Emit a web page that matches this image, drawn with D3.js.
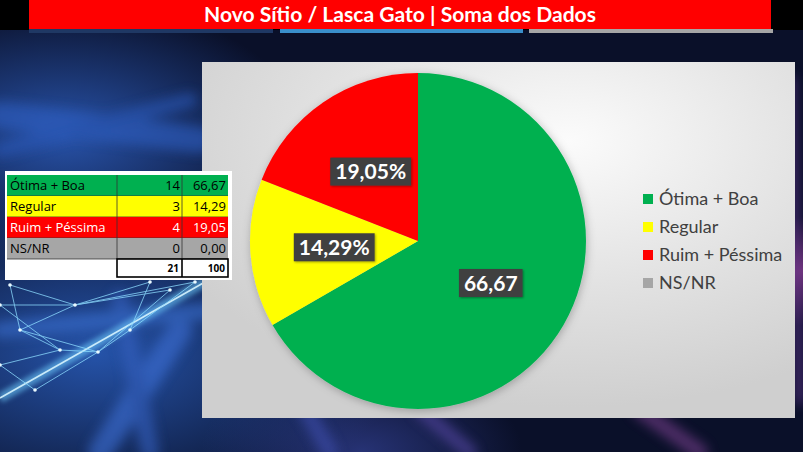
<!DOCTYPE html>
<html>
<head>
<meta charset="utf-8">
<script src="https://cdn.jsdelivr.net/npm/d3@7"></script>
<style>
  html, body { margin: 0; padding: 0; background: #000; }
  svg { display: block; }
</style>
</head>
<body>
<div id="chart"></div>
<script>
// data
const title = "Novo Sítio / Lasca Gato | Soma dos Dados";
const categories = ["Ótima + Boa", "Regular", "Ruim + Péssima", "NS/NR"];
const counts = [14, 3, 4, 0];
const percents = [66.67, 14.29, 19.05, 0.00];
const labelSuffix = ["", "%", "%", "%"];
const totalCount = 21;
const totalPct = 100;
const colors = ["#00b050", "#ffff00", "#ff0000", "#a6a6a6"];
const tableText = ["#000", "#000", "#fff", "#000"];

const W = 803, H = 452;
const fmt = v => d3.format(".2f")(v).replace(".", ",");

const svg = d3.select("#chart").append("svg")
  .attr("width", W).attr("height", H)
  .attr("viewBox", [0, 0, W, H]);

const defs = svg.append("defs");

// background gradients
function radial(id, cx, cy, r, color, op) {
  const g = defs.append("radialGradient").attr("id", id)
    .attr("cx", cx).attr("cy", cy).attr("r", r);
  g.append("stop").attr("offset", 0).attr("stop-color", color).attr("stop-opacity", op);
  g.append("stop").attr("offset", 1).attr("stop-color", color).attr("stop-opacity", 0);
}
radial("glow", 0.08, 0.3, 0.3, "#2f63c9", 0.8);
radial("glow2", 0.12, 0.78, 0.38, "#2a5fc0", 0.85);
radial("glow3", 1, 0.6, 0.12, "#8a3a8a", 0.8);
radial("glow4", 0.45, 1, 0.2, "#3a4aa8", 0.6);

const panelGrad = defs.append("radialGradient").attr("id", "panel")
  .attr("cx", 0.62).attr("cy", 0.22).attr("r", 0.75);
panelGrad.append("stop").attr("offset", 0).attr("stop-color", "#fbfbfb");
panelGrad.append("stop").attr("offset", 0.55).attr("stop-color", "#e2e2e2");
panelGrad.append("stop").attr("offset", 1).attr("stop-color", "#cfcfcf");

const blur = defs.append("filter").attr("id", "blur")
  .attr("x", -0.2).attr("y", -0.2).attr("width", 1.4).attr("height", 1.4);
blur.append("feGaussianBlur").attr("stdDeviation", 6);

const soft = defs.append("filter").attr("id", "soft")
  .attr("x", -0.2).attr("y", -0.2).attr("width", 1.4).attr("height", 1.4);
soft.append("feGaussianBlur").attr("stdDeviation", 2.5);

const shadow = defs.append("filter").attr("id", "shadow")
  .attr("x", -0.1).attr("y", -0.1).attr("width", 1.2).attr("height", 1.2);
shadow.append("feDropShadow").attr("dx", 1).attr("dy", 2)
  .attr("stdDeviation", 4).attr("flood-color", "#000").attr("flood-opacity", 0.25);

const boxShadow = defs.append("filter").attr("id", "boxShadow")
  .attr("x", -0.2).attr("y", -0.2).attr("width", 1.4).attr("height", 1.4);
boxShadow.append("feDropShadow").attr("dx", 1).attr("dy", 1)
  .attr("stdDeviation", 1.2).attr("flood-color", "#000").attr("flood-opacity", 0.35);

// background
svg.append("rect").attr("width", W).attr("height", H).attr("fill", "#0a1029");
["glow", "glow2", "glow3", "glow4"].forEach(id =>
  svg.append("rect").attr("width", W).attr("height", H).attr("fill", `url(#${id})`));

// blurry beams
const beams = svg.append("g").attr("filter", "url(#blur)").attr("opacity", 0.6);
[[100, 452, 180, 330, 24, "#3c6fd6"], [150, 452, 120, 300, 18, "#3460c0"],
 [0, 330, 220, 310, 16, "#3b6fd0"], [330, 452, 300, 400, 16, "#4050b0"],
 [470, 452, 420, 410, 14, "#5a4aa8"], [700, 452, 640, 410, 16, "#7a3f8f"],
 [0, 115, 200, 140, 26, "#2e5fc2"], [0, 150, 190, 100, 14, "#2a58b8"],
 [790, 80, 800, 400, 10, "#6a3a9a"]]
  .forEach(([x1, y1, x2, y2, w, c]) => beams.append("line")
    .attr("x1", x1).attr("y1", y1).attr("x2", x2).attr("y2", y2)
    .attr("stroke", c).attr("stroke-width", w).attr("stroke-linecap", "round"));

// glowing diagonal band
svg.append("line").attr("x1", 0).attr("y1", 398).attr("x2", 205).attr("y2", 282)
  .attr("stroke", "#6fcfff").attr("stroke-width", 10).attr("opacity", 0.55).attr("filter", "url(#soft)");
svg.append("line").attr("x1", 0).attr("y1", 398).attr("x2", 205).attr("y2", 282)
  .attr("stroke", "#d8f5ff").attr("stroke-width", 1.6).attr("opacity", 0.9);

// network mesh
const mesh = svg.append("g").attr("stroke", "#8ddcff").attr("stroke-width", 0.9).attr("opacity", 0.85);
const nodes = [[0, 305], [20, 330], [75, 305], [98, 352], [195, 282], [170, 290],
  [0, 365], [60, 350], [130, 330], [35, 390], [150, 282], [10, 285]];
[[0, 2], [2, 4], [1, 2], [1, 3], [3, 5], [2, 5], [1, 7], [7, 3], [6, 7], [3, 8], [8, 4],
 [6, 9], [9, 3], [2, 10], [11, 2], [11, 1], [10, 8], [0, 7]]
  .forEach(([a, b]) => mesh.append("line")
    .attr("x1", nodes[a][0]).attr("y1", nodes[a][1])
    .attr("x2", nodes[b][0]).attr("y2", nodes[b][1]));
svg.append("g").selectAll("circle").data(nodes).join("circle")
  .attr("cx", d => d[0]).attr("cy", d => d[1]).attr("r", 1.8).attr("fill", "#eafaff");

// header
svg.append("rect").attr("x", 0).attr("y", 0).attr("width", W).attr("height", 30).attr("fill", "#000");
svg.append("rect").attr("x", 29).attr("y", 0).attr("width", 742).attr("height", 29).attr("fill", "#ff0000");
[[29, 273, "#1f3864"], [280, 523, "#3a8fcb"], [529, 773, "#a6a6a6"]].forEach(([a, b, c]) =>
  svg.append("rect").attr("x", a).attr("y", 29).attr("width", b - a).attr("height", 4).attr("fill", c));
svg.append("text").attr("x", 400).attr("y", 22)
  .attr("text-anchor", "middle").attr("fill", "#fff")
  .attr("font-family", "Lato, 'Open Sans', sans-serif").attr("font-weight", "bold")
  .attr("font-size", 21).attr("textLength", 392).attr("lengthAdjust", "spacingAndGlyphs")
  .text(title);

// chart panel
const panel = { x: 202, y: 62, w: 593, h: 356 };
svg.append("rect").attr("x", panel.x).attr("y", panel.y)
  .attr("width", panel.w).attr("height", panel.h).attr("fill", "url(#panel)");

// pie
const cx = 418, cy = 241, r = 168;
const pie = d3.pie().sort(null).value(d => d)(percents);
const arc = d3.arc().innerRadius(0).outerRadius(r);
const gPie = svg.append("g").attr("transform", `translate(${cx},${cy})`);
gPie.append("g").attr("filter", "url(#shadow)")
  .selectAll("path").data(pie).join("path")
  .attr("d", arc).attr("fill", (d, i) => colors[i]);

const labels = gPie.selectAll("g.lbl").data(pie.filter(d => d.value > 0)).join("g")
  .attr("class", "lbl")
  .attr("transform", d => `translate(${arc.centroid(d)})`);
labels.each(function (d) {
  const g = d3.select(this);
  const t = g.append("text")
    .attr("text-anchor", "middle").attr("dy", "0.36em")
    .attr("fill", "#fff").attr("font-family", "Lato, 'Open Sans', sans-serif")
    .attr("font-weight", "bold").attr("font-size", 21)
    .text(fmt(d.value) + labelSuffix[d.index]);
  const bb = t.node().getBBox();
  g.insert("rect", "text")
    .attr("x", bb.x - 5).attr("y", -14).attr("width", bb.width + 10).attr("height", 28)
    .attr("fill", "#404040").attr("filter", "url(#boxShadow)");
});

// legend
const legend = svg.append("g").attr("transform", "translate(643,199)");
const ly = d3.scalePoint().domain(categories).range([0, 84]);
const li = legend.selectAll("g").data(categories).join("g")
  .attr("transform", d => `translate(0,${ly(d)})`);
li.append("rect").attr("x", 0).attr("y", -5).attr("width", 10).attr("height", 10)
  .attr("fill", (d, i) => colors[i]);
li.append("text").attr("x", 16).attr("dy", "0.36em")
  .attr("fill", "#404040").attr("font-family", "Lato, 'Open Sans', sans-serif")
  .attr("font-size", 18).text(d => d);

// table
svg.append("rect").attr("x", 5).attr("y", 171).attr("width", 227).attr("height", 109).attr("fill", "#fff");
const colX = [7, 117, 182, 228];
const rowY = d3.scaleBand().domain(d3.range(categories.length)).range([175, 259]);
const tbl = svg.append("g").attr("font-family", "'Open Sans', 'Noto Sans', sans-serif");
const rows = tbl.selectAll("g").data(categories).join("g")
  .attr("transform", (d, i) => `translate(0,${rowY(i)})`);
rows.append("rect").attr("x", colX[0]).attr("width", colX[3] - colX[0])
  .attr("height", rowY.bandwidth()).attr("fill", (d, i) => colors[i]);
rows.selectAll("line.v").data([colX[1], colX[2]]).join("line")
  .attr("x1", d => d).attr("x2", d => d).attr("y1", 0).attr("y2", rowY.bandwidth())
  .attr("stroke", "#333").attr("stroke-width", 0.8);
rows.append("line").attr("x1", colX[0]).attr("x2", colX[3])
  .attr("y1", rowY.bandwidth()).attr("y2", rowY.bandwidth())
  .attr("stroke", "#333").attr("stroke-width", 0.8);
const tY = rowY.bandwidth() / 2;
rows.append("text").attr("x", colX[0] + 3).attr("y", tY).attr("dy", "0.36em")
  .attr("font-size", 13).attr("fill", (d, i) => tableText[i]).text(d => d);
rows.append("text").attr("x", colX[2] - 2).attr("y", tY).attr("dy", "0.36em")
  .attr("text-anchor", "end").attr("font-size", 13).attr("fill", (d, i) => tableText[i])
  .text((d, i) => counts[i]);
rows.append("text").attr("x", colX[3] - 2).attr("y", tY).attr("dy", "0.36em")
  .attr("text-anchor", "end").attr("font-size", 13).attr("fill", (d, i) => tableText[i])
  .text((d, i) => fmt(percents[i]));

// total row
const ty0 = 259, ty1 = 277;
tbl.append("rect").attr("x", colX[1]).attr("y", ty0).attr("width", colX[3] - colX[1])
  .attr("height", ty1 - ty0).attr("fill", "#fff").attr("stroke", "#000").attr("stroke-width", 1.6);
tbl.append("line").attr("x1", colX[2]).attr("x2", colX[2]).attr("y1", ty0).attr("y2", ty1)
  .attr("stroke", "#000").attr("stroke-width", 1.6);
tbl.append("text").attr("x", colX[2] - 3).attr("y", (ty0 + ty1) / 2).attr("dy", "0.36em")
  .attr("text-anchor", "end").attr("font-size", 10).attr("font-weight", "bold").text(totalCount);
tbl.append("text").attr("x", colX[3] - 3).attr("y", (ty0 + ty1) / 2).attr("dy", "0.36em")
  .attr("text-anchor", "end").attr("font-size", 10).attr("font-weight", "bold").text(totalPct);
</script>
</body>
</html>
